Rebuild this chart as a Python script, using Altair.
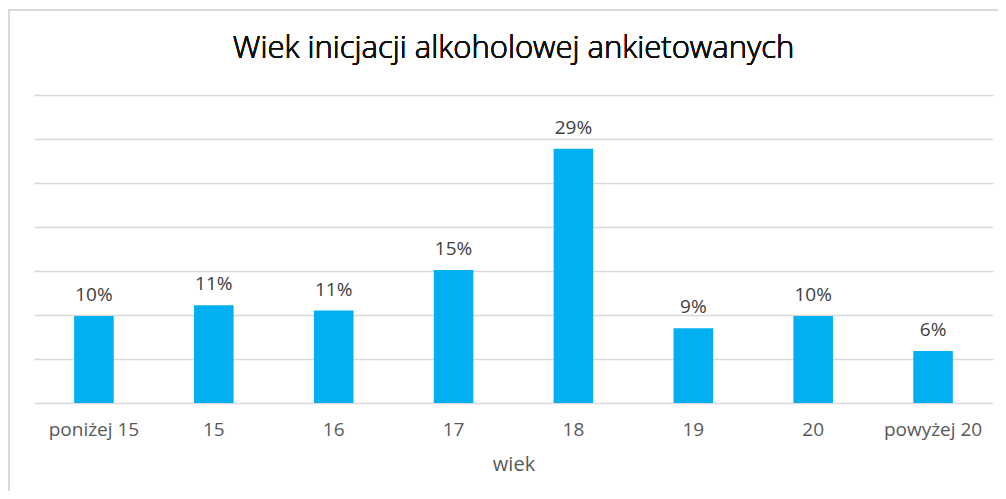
import altair as alt
import pandas as pd

categories = ["poniżej 15", "15", "16", "17", "18", "19", "20", "powyżej 20"]
values = [9.9, 11.1, 10.5, 15.1, 28.9, 8.5, 9.9, 5.9]
labels = ["10%", "11%", "11%", "15%", "29%", "9%", "10%", "6%"]
title_text = "Wiek inicjacji alkoholowej ankietowanych"
x_title = "wiek"

df = pd.DataFrame({"kat": categories, "val": values, "lab": labels})

FONT = "Open Sans"
W, H = 959, 308

x = alt.X("kat:N", sort=categories, title=x_title,
          scale=alt.Scale(paddingInner=0.67, paddingOuter=0.335),
          axis=alt.Axis(labelAngle=0, domain=False, ticks=False, grid=False,
                        labelFont=FONT, labelFontSize=19, labelColor="#595959",
                        labelPadding=17, titleFont=FONT, titleFontSize=20,
                        titleFontWeight="normal", titleColor="#595959",
                        titlePadding=15))
y = alt.Y("val:Q", scale=alt.Scale(domain=[0, 35]),
          axis=alt.Axis(values=[0, 5, 10, 15, 20, 25, 30, 35], labels=False,
                        ticks=False, domain=False, title=None,
                        grid=True, gridColor="#d9d9d9", gridWidth=1.5))

base = alt.Chart(df)
bars = base.mark_bar(color="#00B0F0").encode(x=x, y=y)
text = base.mark_text(font=FONT, fontSize=19, color="#404040",
                      baseline="alphabetic", dy=-15).encode(
    x=alt.X("kat:N", sort=categories), y="val:Q", text="lab:N")

title = base.mark_text(font=FONT, fontSize=31, fontWeight=300,
                       color="#111111", baseline="alphabetic",
                       align="center").encode(
    x=alt.value(W / 2), y=alt.value(-37), text=alt.value(title_text))

border_top = base.mark_rule(color="#d9d9d9", strokeWidth=2).encode(
    x=alt.value(-26), x2=alt.value(W + 20), y=alt.value(-85))
border_left = base.mark_rule(color="#d9d9d9", strokeWidth=2).encode(
    x=alt.value(-25), y=alt.value(-85), y2=alt.value(H + 96))

chart = alt.layer(bars, text, title, border_top, border_left).properties(
    width=W, height=H,
    background="white",
    autosize=alt.AutoSizeParams(type="none"),
    padding={"left": 26, "top": 87, "right": 5, "bottom": 88},
).configure_view(stroke=None)

chart.save("out.html", embed_options={"renderer": "svg", "actions": False})
